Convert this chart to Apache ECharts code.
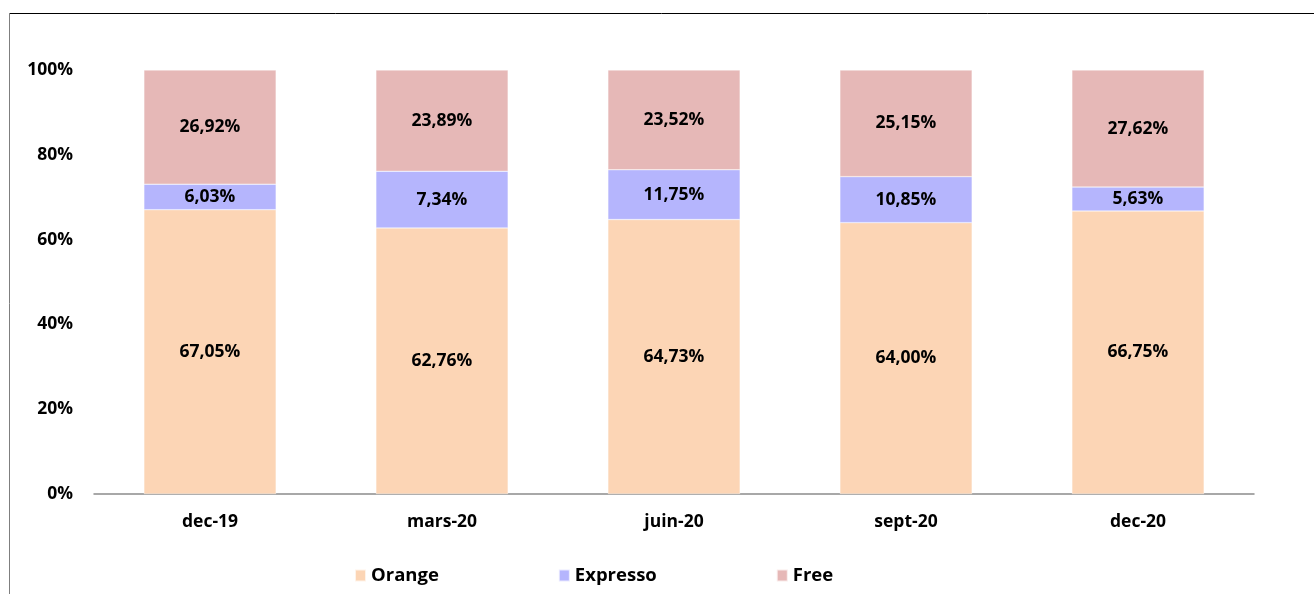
<!DOCTYPE html>
<html>
<head>
<meta charset="utf-8">
<script src="https://cdn.jsdelivr.net/npm/echarts@6/dist/echarts.min.js"></script>
<style>
  html, body { margin: 0; padding: 0; background: #fff; }
  #chart { width: 1314px; height: 594px; }
</style>
</head>
<body>
<div id="chart"></div>
<script>
const categories = ['dec-19', 'mars-20', 'juin-20', 'sept-20', 'dec-20']
const yTicks = [0, 20, 40, 60, 80, 100]

// parts de marché (%)
const orange = [67.05, 62.76, 64.73, 64.00, 66.75]
// mars-20: le segment dessiné fait ~13,35% mais l'étiquette affiche 7,34%
const expresso = [6.03, 13.35, 11.75, 10.85, 5.63]
const expressoLabels = ['6,03%', '7,34%', '11,75%', '10,85%', '5,63%']
const free = [26.92, 23.89, 23.52, 25.15, 27.62]

const font = '"Open Sans", sans-serif'
const fmt = v => v.toFixed(2).replace('.', ',') + '%'

const chart = echarts.init(document.getElementById('chart'))

const barLabel = {
  show: true,
  position: 'inside',
  color: '#000',
  fontFamily: font,
  fontWeight: 'bold',
  fontSize: 17.5
}

const option = {
  animation: false,
  backgroundColor: '#fff',
  textStyle: { fontFamily: font },
  graphic: [
    { type: 'line', shape: { x1: 9, y1: 13.5, x2: 1314, y2: 13.5 }, style: { stroke: '#000', lineWidth: 1 } },
    { type: 'line', shape: { x1: 9.5, y1: 13, x2: 9.5, y2: 594 }, style: { stroke: '#7f7f7f', lineWidth: 1 } }
  ],
  grid: { left: 94, right: 60, top: 70, bottom: 100 },
  legend: {
    left: 349,
    top: 561,
    itemWidth: 11,
    itemHeight: 12,
    itemGap: 119,
    icon: 'rect',
    textStyle: { fontFamily: font, fontWeight: 'bold', fontSize: 18.5, color: '#000' },
    data: ['Orange', 'Expresso', 'Free']
  },
  xAxis: {
    type: 'category',
    data: categories,
    axisLine: { lineStyle: { color: '#8c8c8c', width: 1.5 } },
    axisTick: { show: false },
    axisLabel: { color: '#000', fontFamily: font, fontWeight: 'bold', fontSize: 17.5, margin: 19 }
  },
  yAxis: {
    type: 'value',
    min: yTicks[0],
    max: yTicks[yTicks.length - 1],
    interval: 20,
    axisLine: { show: false },
    axisTick: { show: false },
    splitLine: { show: false },
    axisLabel: { color: '#000', fontFamily: font, fontWeight: 'bold', fontSize: 17.5, margin: 21, formatter: '{value}%' }
  },
  series: [
    {
      name: 'Orange', type: 'bar', stack: 'total', barWidth: '57%',
      data: orange,
      itemStyle: { color: '#FCD5B5', borderColor: 'rgba(255,255,255,0.7)', borderWidth: 0.5 },
      label: { ...barLabel, formatter: p => fmt(p.value) }
    },
    {
      name: 'Expresso', type: 'bar', stack: 'total',
      data: expresso,
      itemStyle: { color: '#B5B5FD', borderColor: 'rgba(255,255,255,0.7)', borderWidth: 0.5 },
      label: { ...barLabel, formatter: p => expressoLabels[p.dataIndex] }
    },
    {
      name: 'Free', type: 'bar', stack: 'total',
      data: free,
      itemStyle: { color: '#E6B8B7', borderColor: 'rgba(255,255,255,0.7)', borderWidth: 0.5 },
      label: { ...barLabel, formatter: p => fmt(p.value) }
    }
  ]
}

chart.setOption(option)
window.addEventListener('resize', () => chart.resize())
</script>
</body>
</html>
